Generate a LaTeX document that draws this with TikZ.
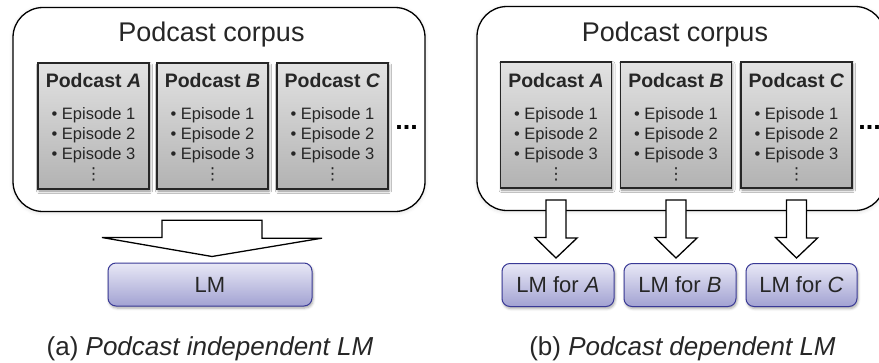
\documentclass[tikz,border=0pt]{standalone}
\usepackage{fontspec}
\setmainfont{Liberation Sans}
\newfontfamily\symfont{DejaVu Sans}
\usetikzlibrary{positioning,calc,shadows.blur}
\definecolor{podtop}{HTML}{E2E2E2}
\definecolor{podbot}{HTML}{B2B2B2}
\definecolor{lmtop}{HTML}{E8E8F6}
\definecolor{lmbot}{HTML}{A2A2D2}
\definecolor{lmedge}{HTML}{3A3A96}
\tikzset{
  corpus/.style={draw, line width=1.3pt, rounded corners=30pt, fill=white, minimum height=204pt,
    blur shadow={shadow xshift=0pt, shadow yshift=-1pt, shadow blur radius=4pt, shadow opacity=15}},
  podbox/.style={draw=black!85, line width=1.1pt, top color=podtop, bottom color=podbot, minimum width=111pt, minimum height=126pt, inner sep=0pt,
    blur shadow={shadow xshift=1pt, shadow yshift=-2pt, shadow blur radius=2.5pt, shadow opacity=45}},
  podname/.style={font=\fontsize{19.5}{23}\selectfont\bfseries, inner sep=0pt, anchor=base, text=black!85},
  eplist/.style={font=\fontsize{16.5}{20}\selectfont, inner sep=0pt, anchor=base, text=black!85},
  lmbox/.style={draw=lmedge, line width=1pt, rounded corners=8pt, top color=lmtop, bottom color=lmbot, minimum height=43pt, inner sep=0pt,
    font=\fontsize{22}{26}\selectfont, text=black!85,
    blur shadow={shadow xshift=1pt, shadow yshift=-2pt, shadow blur radius=2.5pt, shadow opacity=35}},
  blockarrow/.style={draw, line width=1.3pt, fill=white, line join=miter},
  corptitle/.style={font=\fontsize{27}{32}\selectfont, anchor=base, inner sep=0pt, text=black!85},
  moredots/.style={font=\fontsize{27}{32}\selectfont\bfseries, anchor=base, inner sep=0pt},
  subcap/.style={font=\fontsize{26}{30}\selectfont, anchor=base, inner sep=0pt, text=black!85}
}

\begin{document}
\begin{tikzpicture}[x=1pt, y=-1pt]
  \useasboundingbox (0,0) rectangle (879,362);

  % (a) one model for the whole corpus
  \node[corpus, minimum width=412pt] (lcorp) at (219,109.5) {};
  \node[corptitle] (ltitle) at (211.5,41.5) {Podcast corpus};
  \node[podbox] (lpa) at (93.5,126) {};
  \node[podbox] (lpb) at (212.5,126) {};
  \node[podbox] (lpc) at (332.5,126) {};
  \node[podname] (lpa-n) at (93.5,87.5) {Podcast \textit{A}};
  \node[podname] (lpb-n) at (212.5,87.5) {Podcast \textit{B}};
  \node[podname] (lpc-n) at (332.5,87.5) {Podcast \textit{C}};
  \node[eplist] (lpa-e) at (93.5,119) {\begin{tabular}[t]{@{}l@{}}• Episode 1\\• Episode 2\\• Episode 3\\\multicolumn{1}{@{}c@{}}{\symfont ⋮}\end{tabular}};
  \node[eplist] (lpb-e) at (212.5,119) {\begin{tabular}[t]{@{}l@{}}• Episode 1\\• Episode 2\\• Episode 3\\\multicolumn{1}{@{}c@{}}{\symfont ⋮}\end{tabular}};
  \node[eplist] (lpc-e) at (332.5,119) {\begin{tabular}[t]{@{}l@{}}• Episode 1\\• Episode 2\\• Episode 3\\\multicolumn{1}{@{}c@{}}{\symfont ⋮}\end{tabular}};
  \node[moredots] (ldots) at (406.5,129.5) {...};
  \node[lmbox, minimum width=204pt] (lm) at (210,284.5) {LM};
  \draw[blockarrow] ($(lcorp.south)+(-57,8)$) -- ++(100,0) -- ++(0,18) -- ++(60,0)
    -- ($(lm.north)+(2,-6)$) -- ++(-110,-19) -- ++(60,0) -- cycle;
  \node[subcap] (capa) at (210,355) {(a) \textit{Podcast independent LM}};

  % (b) one model per podcast
  \node[corpus, minimum width=408pt] (rcorp) at (681,108.5) {};
  \node[corptitle] (rtitle) at (675,41) {Podcast corpus};
  \node[podbox] (rpa) at (556,125) {};
  \node[podbox] (rpb) at (676,125) {};
  \node[podbox] (rpc) at (796.5,125) {};
  \node[podname] (rpa-n) at (556,87) {Podcast \textit{A}};
  \node[podname] (rpb-n) at (676,87) {Podcast \textit{B}};
  \node[podname] (rpc-n) at (796.5,87) {Podcast \textit{C}};
  \node[eplist] (rpa-e) at (556,119) {\begin{tabular}[t]{@{}l@{}}• Episode 1\\• Episode 2\\• Episode 3\\\multicolumn{1}{@{}c@{}}{\symfont ⋮}\end{tabular}};
  \node[eplist] (rpb-e) at (676,119) {\begin{tabular}[t]{@{}l@{}}• Episode 1\\• Episode 2\\• Episode 3\\\multicolumn{1}{@{}c@{}}{\symfont ⋮}\end{tabular}};
  \node[eplist] (rpc-e) at (796.5,119) {\begin{tabular}[t]{@{}l@{}}• Episode 1\\• Episode 2\\• Episode 3\\\multicolumn{1}{@{}c@{}}{\symfont ⋮}\end{tabular}};
  \node[moredots] (rdots) at (869.5,129.5) {...};
  \node[lmbox, minimum width=112pt] (lma) at (558,285) {LM for \textit{A}};
  \node[lmbox, minimum width=112pt] (lmb) at (680,285) {LM for \textit{B}};
  \node[lmbox, minimum width=111pt] (lmc) at (801.5,285) {LM for \textit{C}};
  \draw[blockarrow] ($(rpa.south)+(-10,11.5)$) -- ++(20,0) -- ++(0,38) -- ++(11,0)
    -- ($(rpa.south |- lma.north)+(0,-5)$) -- ++(-21,-20.5) -- ++(11,0) -- cycle;
  \draw[blockarrow] ($(rpb.south)+(-10,11.5)$) -- ++(20,0) -- ++(0,38) -- ++(11,0)
    -- ($(rpb.south |- lmb.north)+(0,-5)$) -- ++(-21,-20.5) -- ++(11,0) -- cycle;
  \draw[blockarrow] ($(rpc.south)+(-10,11.5)$) -- ++(20,0) -- ++(0,38) -- ++(11,0)
    -- ($(rpc.south |- lmc.north)+(0,-5)$) -- ++(-21,-20.5) -- ++(11,0) -- cycle;
  \node[subcap] (capb) at (682.5,355) {(b) \textit{Podcast dependent LM}};
\end{tikzpicture}
\end{document}
